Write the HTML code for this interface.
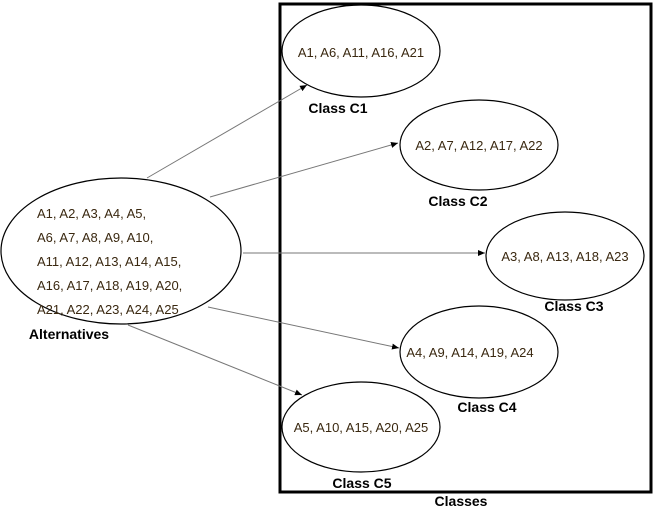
<!DOCTYPE html>
<html><head><style>body{margin:0;background:#fff}</style></head><body>
<svg width="656" height="508" viewBox="0 0 656 508" xmlns="http://www.w3.org/2000/svg" font-family="Liberation Sans, sans-serif">
<defs><marker id="a" markerWidth="8" markerHeight="8" refX="7" refY="4" orient="auto" markerUnits="userSpaceOnUse"><path d="M0,1 L7,4 L0,7 z" fill="#000"/></marker></defs>
<rect x="280" y="4" width="371" height="488" fill="none" stroke="#000" stroke-width="3"/>
<g stroke="#777" stroke-width="1" marker-end="url(#a)">
<line x1="147" y1="178" x2="307" y2="85"/>
<line x1="210" y1="197" x2="398" y2="143"/>
<line x1="243" y1="253" x2="485" y2="253"/>
<line x1="208" y1="307" x2="399" y2="348"/>
<line x1="128" y1="325" x2="302" y2="395"/>
</g>
<g fill="#fff" stroke="#000" stroke-width="1.2">
<ellipse cx="121" cy="251" rx="120" ry="73"/>
<ellipse cx="361" cy="51" rx="79" ry="46"/>
<ellipse cx="479" cy="145" rx="79" ry="45"/>
<ellipse cx="565" cy="256" rx="79" ry="44"/>
<ellipse cx="479" cy="352" rx="79" ry="46"/>
<ellipse cx="361" cy="427" rx="79" ry="45"/>
</g>
<g fill="#3a2810" font-size="13">
<text x="37" y="218">A1, A2, A3, A4, A5,</text>
<text x="37" y="242">A6, A7, A8, A9, A10,</text>
<text x="37" y="266">A11, A12, A13, A14, A15,</text>
<text x="37" y="290">A16, A17, A18, A19, A20,</text>
<text x="37" y="314">A21, A22, A23, A24, A25</text>
<text x="361" y="57" text-anchor="middle">A1, A6, A11, A16, A21</text>
<text x="479" y="150" text-anchor="middle">A2, A7, A12, A17, A22</text>
<text x="565" y="261" text-anchor="middle">A3, A8, A13, A18, A23</text>
<text x="470" y="357" text-anchor="middle">A4, A9, A14, A19, A24</text>
<text x="361" y="432" text-anchor="middle">A5, A10, A15, A20, A25</text>
</g>
<g font-weight="bold" font-size="14" fill="#000" text-anchor="middle">
<text x="69" y="339">Alternatives</text>
<text x="338" y="113">Class C1</text>
<text x="458" y="206">Class C2</text>
<text x="574" y="311">Class C3</text>
<text x="487" y="412">Class C4</text>
<text x="362" y="488">Class C5</text>
<text x="461" y="506">Classes</text>
</g>
</svg>
</body></html>
